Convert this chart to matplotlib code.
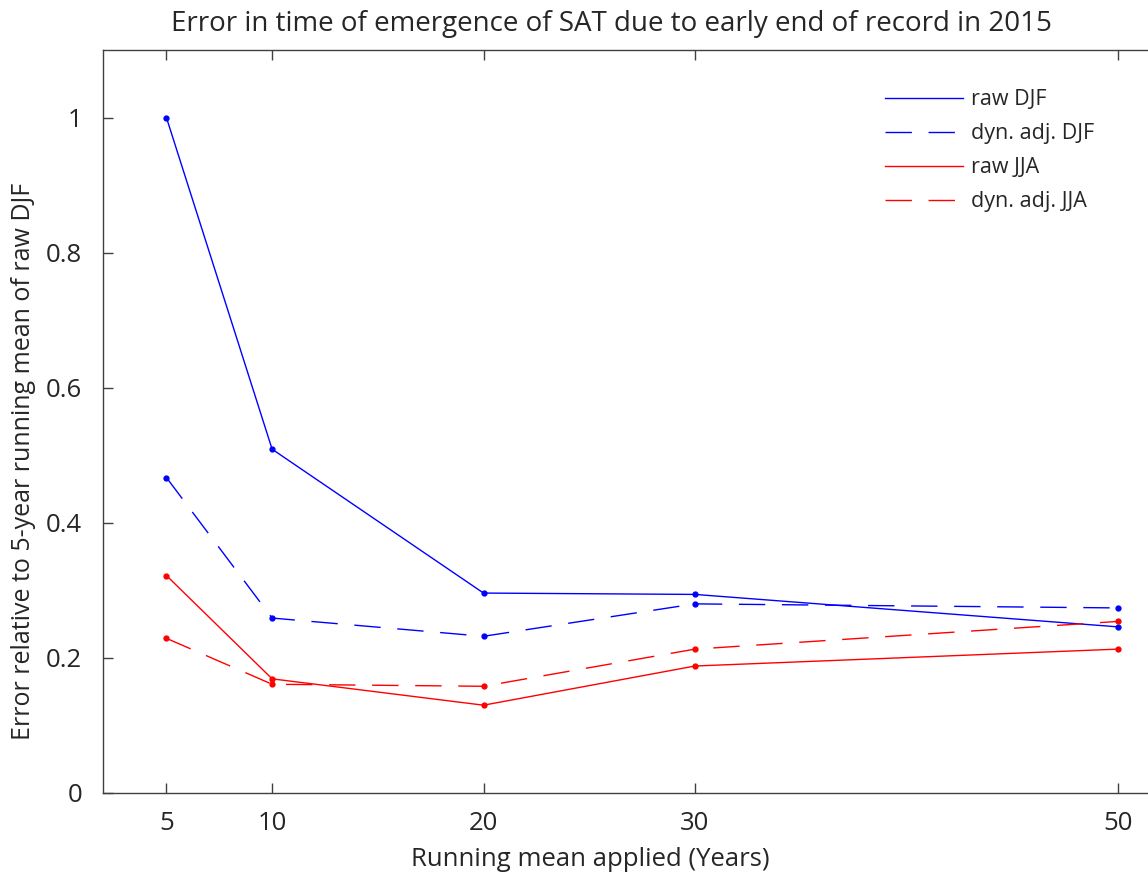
import matplotlib
matplotlib.use('Agg')
import matplotlib.pyplot as plt

plt.rcParams['font.family'] = ['Open Sans', 'DejaVu Sans']

# running mean windows (years)
windows = [5, 10, 20, 30, 50]

# error relative to 5-year running mean of raw DJF
raw_djf = [1.0, 0.509, 0.296, 0.294, 0.246]
dyn_djf = [0.467, 0.259, 0.232, 0.280, 0.274]
raw_jja = [0.322, 0.169, 0.130, 0.188, 0.213]
dyn_jja = [0.229, 0.161, 0.158, 0.213, 0.254]

y_ticks = [0, 0.2, 0.4, 0.6, 0.8, 1]
y_ticklabels = ['0', '0.2', '0.4', '0.6', '0.8', '1']

W, H = 1148, 875
fig = plt.figure(figsize=(W / 100, H / 100), dpi=100)
ax = fig.add_axes([103 / W, 82 / H, (1160 - 103) / W, 743 / H])

dash = (19, 12)
ax.plot(windows, raw_djf, color='#0000ff', lw=1.0, marker='o', ms=3.5, label='raw DJF')
ax.plot(windows, dyn_djf, color='#0000ff', lw=1.0, marker='o', ms=3.5, dashes=dash, label='dyn. adj. DJF')
ax.plot(windows, raw_jja, color='#ff0000', lw=1.0, marker='o', ms=3.5, label='raw JJA')
ax.plot(windows, dyn_jja, color='#ff0000', lw=1.0, marker='o', ms=3.5, dashes=dash, label='dyn. adj. JJA')

ax.set_xlim(2, 52)
ax.set_ylim(0, 1.1)
ax.set_xticks(windows)
ax.set_yticks(y_ticks)
ax.set_yticklabels(y_ticklabels)

for s in ax.spines.values():
    s.set_color('#404040')
    s.set_linewidth(1.0)
ax.tick_params(direction='in', length=7, width=1.0, color='#404040',
               top=True, right=True, labelsize=18.5, labelcolor='#262626')
ax.tick_params(axis='y', pad=15)
ax.tick_params(axis='x', pad=13)

ax.set_title('Error in time of emergence of SAT due to early end of record in 2015',
             fontsize=20, color='#262626', pad=14, x=(611 - 103) / (1160 - 103))
ax.set_xlabel('Running mean applied (Years)', fontsize=18.5, color='#262626')
ax.xaxis.set_label_coords((590 - 103) / (1160 - 103), -(860 - 793) / 743)
ax.xaxis.label.set_va('center')
ax.set_ylabel('Error relative to 5-year running mean of raw DJF', fontsize=18,
              color='#262626')
ax.yaxis.set_label_coords(-(103 - 24) / (1160 - 103), (793 - 461) / 743)
ax.yaxis.label.set_va('center')

leg = ax.legend(loc='upper left', bbox_to_anchor=(866 / W, 1 - 70 / H),
                bbox_transform=fig.transFigure, frameon=False, fontsize=15.5,
                handlelength=3.6, handletextpad=0.4, labelspacing=0.6)
for t in leg.get_texts():
    t.set_color('#262626')
for h in leg.legend_handles:
    h.set_marker('')

fig.savefig('out.png', dpi=100)
